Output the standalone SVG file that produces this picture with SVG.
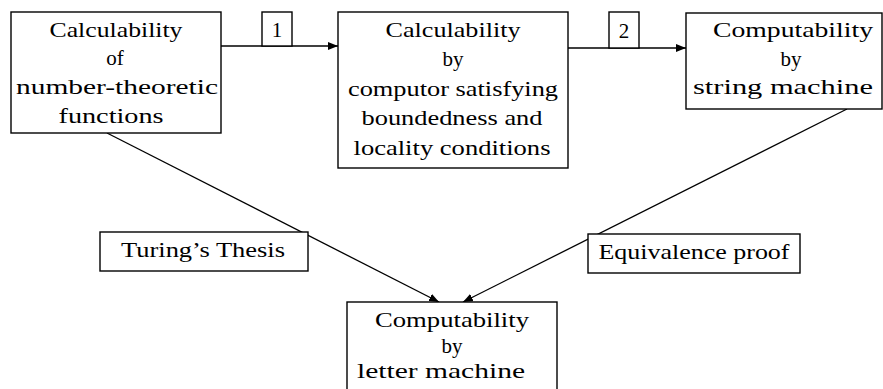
<svg xmlns="http://www.w3.org/2000/svg" width="883" height="389" viewBox="0 0 883 389">
  <defs>
    <marker id="arrow" viewBox="0 0 10 8" refX="10" refY="4" markerWidth="10" markerHeight="8" markerUnits="userSpaceOnUse" orient="auto">
      <path d="M0,0 L10,4 L0,8 Z" fill="#000"/>
    </marker>
  </defs>
  <style>
    .box { fill: #fff; stroke: #000; stroke-width: 1.4; }
    .edge { fill: none; stroke: #000; stroke-width: 1.3; marker-end: url(#arrow); }
    .t { font-family: 'Liberation Serif', 'DejaVu Serif', serif; font-size: 21px; fill: #000; text-anchor: middle; }
  </style>
  <rect x="0" y="0" width="883" height="389" fill="#fff"/>

  <!-- connectors -->
  <g id="connectors">
    <line class="edge" x1="221" y1="46" x2="338" y2="46"/>
    <line class="edge" x1="568" y1="48" x2="686" y2="48"/>
    <line class="edge" x1="107" y1="133" x2="439" y2="302"/>
    <line class="edge" x1="847" y1="109" x2="463" y2="302"/>
  </g>

  <!-- edge labels -->
  <g id="label-1">
    <rect class="box" x="262" y="12" width="30" height="34"/>
    <text class="t" x="277" y="37">1</text>
  </g>
  <g id="label-2">
    <rect class="box" x="609" y="12" width="30" height="36"/>
    <text class="t" x="624" y="38">2</text>
  </g>

  <g id="node-number-theoretic" class="t">
    <rect class="box" x="11" y="12" width="210" height="121"/>
    <text x="116" y="37" textLength="133" lengthAdjust="spacingAndGlyphs">Calculability</text>
    <text x="115" y="65">of</text>
    <text x="117" y="94" textLength="202" lengthAdjust="spacingAndGlyphs">number-theoretic</text>
    <text x="111" y="123" textLength="105" lengthAdjust="spacingAndGlyphs">functions</text>
  </g>

  <g id="node-computor" class="t">
    <rect class="box" x="338" y="12" width="230" height="156"/>
    <text x="453" y="37" textLength="135" lengthAdjust="spacingAndGlyphs">Calculability</text>
    <text x="453" y="66">by</text>
    <text x="453" y="96" textLength="210" lengthAdjust="spacingAndGlyphs">computor satisfying</text>
    <text x="452" y="125" textLength="181" lengthAdjust="spacingAndGlyphs">boundedness and</text>
    <text x="452" y="155" textLength="197" lengthAdjust="spacingAndGlyphs">locality conditions</text>
  </g>

  <g id="node-string-machine" class="t">
    <rect class="box" x="686" y="13" width="196" height="96"/>
    <text x="793" y="37" textLength="160" lengthAdjust="spacingAndGlyphs">Computability</text>
    <text x="791" y="66">by</text>
    <text x="783" y="94" textLength="180" lengthAdjust="spacingAndGlyphs">string machine</text>
  </g>

  <g id="label-turing" class="t">
    <rect class="box" x="100" y="232" width="208" height="39"/>
    <text x="203" y="257" textLength="164" lengthAdjust="spacingAndGlyphs">Turing’s Thesis</text>
  </g>

  <g id="label-equivalence" class="t">
    <rect class="box" x="588" y="234" width="212" height="39"/>
    <text x="694" y="259" textLength="191" lengthAdjust="spacingAndGlyphs">Equivalence proof</text>
  </g>

  <g id="node-letter-machine" class="t">
    <rect class="box" x="347" y="302" width="210" height="95"/>
    <text x="452" y="327" textLength="154" lengthAdjust="spacingAndGlyphs">Computability</text>
    <text x="452" y="353">by</text>
    <text x="441" y="378" textLength="168" lengthAdjust="spacingAndGlyphs">letter machine</text>
  </g>
</svg>
